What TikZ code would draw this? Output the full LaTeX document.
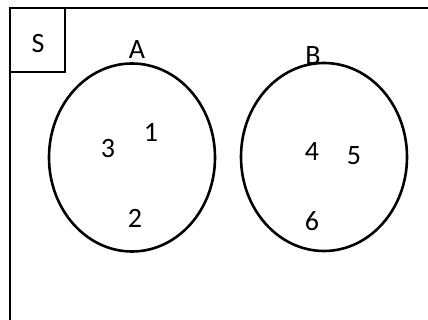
\documentclass[tikz,border=0pt]{standalone}
\usepackage{fontspec}
\setmainfont{Carlito}
\usetikzlibrary{shapes.geometric, positioning}
\definecolor{mydark}{RGB}{0,0,0}
\tikzset{
  setshape/.style={ellipse, draw=mydark, line width=2.6pt,
    minimum width=166pt, minimum height=188pt, inner sep=0pt},
  elem/.style={font=\fontsize{28}{33}\selectfont, text=mydark, inner sep=0pt},
  frame/.style={draw=mydark, line width=2.4pt}
}
\begin{document}
\begin{tikzpicture}[x=1pt, y=-1pt]
  \useasboundingbox (0,0) rectangle (428,320);
  \clip (0,0) rectangle (428,320);
  % universe
  \draw[frame] (10,8) rectangle (440,335);
  \node[frame, minimum width=55pt, minimum height=64pt, inner sep=0pt] (sbox) at (37.5,40) {};
  \node[elem] (slabel) at (38,44) {S};
  % the two sets
  \node[setshape] (setA) at (132,157.5) {};
  \node[setshape] (setB) at (324,157) {};
  \node[elem] (labA) at (137,50) {A};
  \node[elem] (labB) at (313,56) {B};
  % elements
  \node[elem] (e1) at (151,132) {1};
  \node[elem] (e3) at (108,149) {3};
  \node[elem] (e2) at (135,218) {2};
  \node[elem] (e4) at (312,152) {4};
  \node[elem] (e5) at (354,156) {5};
  \node[elem] (e6) at (312,221) {6};
\end{tikzpicture}
\end{document}
